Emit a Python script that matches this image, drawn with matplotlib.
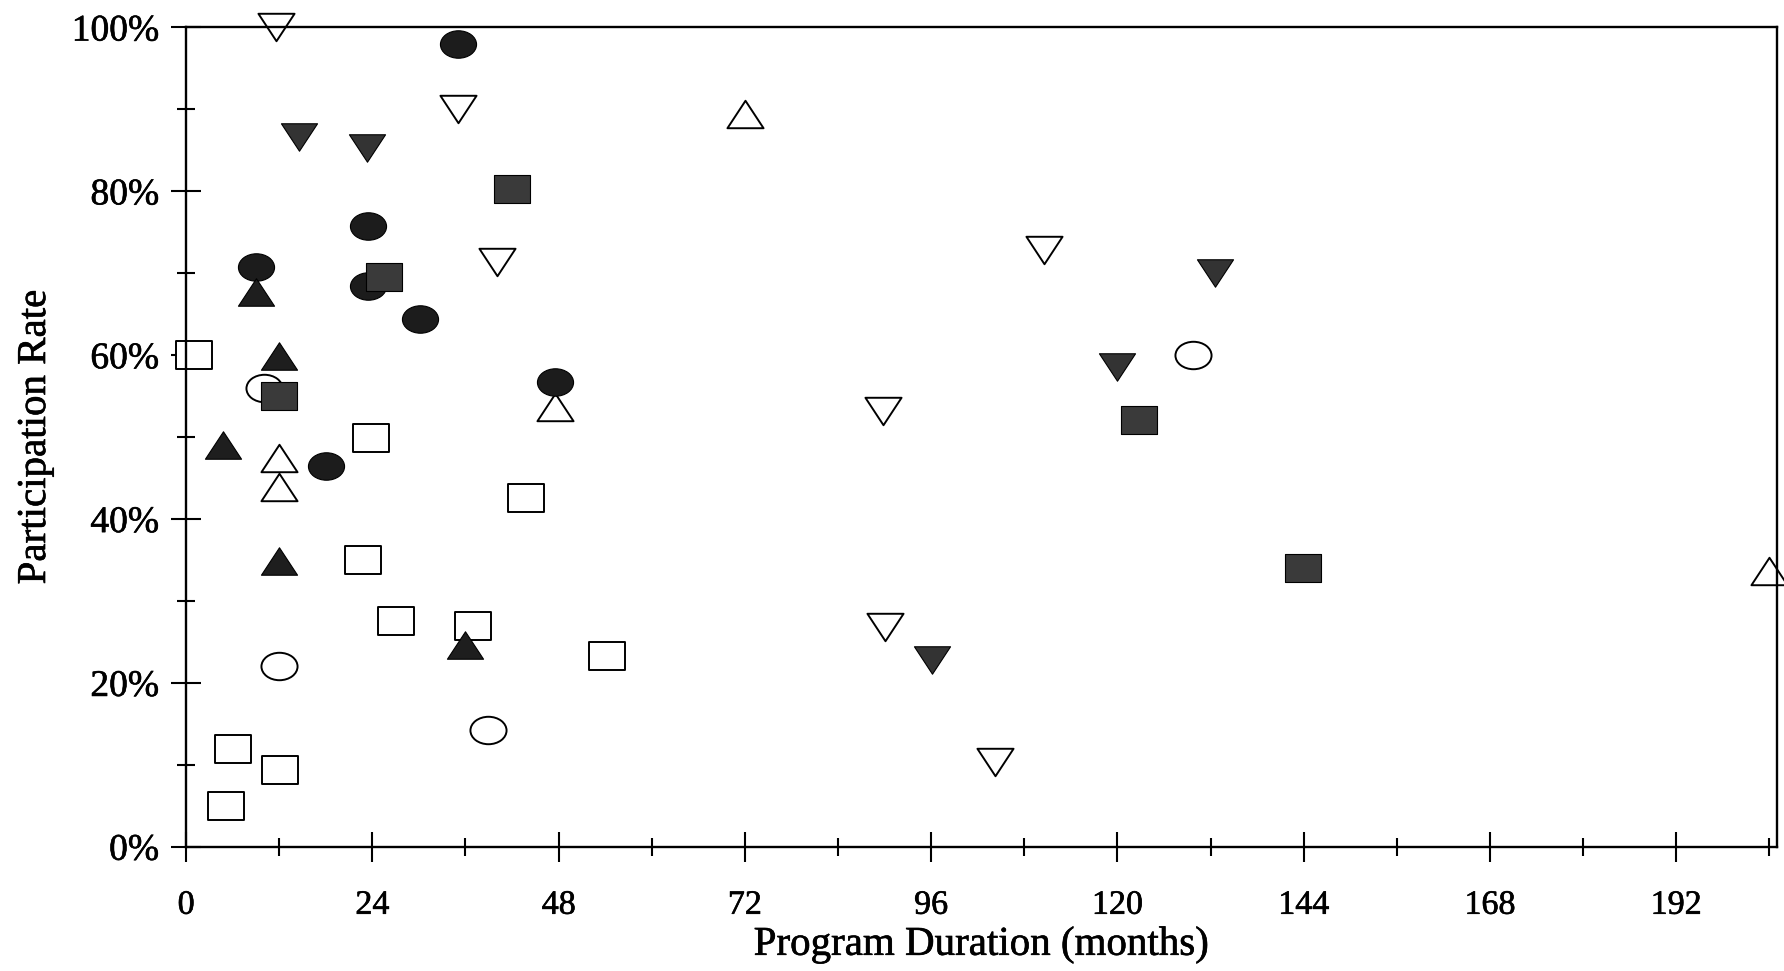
import numpy as np
import matplotlib
matplotlib.use("Agg")
import matplotlib.pyplot as plt
import matplotlib.patheffects as pe
from matplotlib.path import Path
from matplotlib.ticker import FixedLocator

# ---- data (months, participation %) ----
open_sq_x = [1, 23.8, 43.8, 22.8, 27, 37, 54.2, 6.1, 12.1, 5.1]
open_sq_y = [60, 49.9, 42.5, 35, 27.5, 26.9, 23.3, 11.9, 9.4, 4.9]

fill_sq_x = [42, 25.5, 12, 122.8, 143.9]
fill_sq_y = [80.3, 69.5, 55, 52.1, 34.0]

open_ci_x = [10, 129.7, 12, 38.9]
open_ci_y = [56, 60, 22, 14.2]

fill_ci_x = [35, 23.5, 9, 23.5, 30.2, 47.6, 18]
fill_ci_y = [98, 75.8, 70.8, 68.4, 64.4, 56.7, 46.5]

open_up_x = [72, 47.6, 12, 12, 204]
open_up_y = [89.4, 53.6, 47.4, 43.9, 33.6]

fill_up_x = [9, 12, 4.8, 12, 36]
fill_up_y = [67.7, 59.9, 49, 34.9, 24.6]

open_dn_x = [11.6, 35, 40, 110.6, 89.8, 90, 104.2]
open_dn_y = [100, 90, 71.4, 72.8, 53.2, 26.8, 10.3]

fill_dn_x = [14.5, 23.3, 132.6, 119.9, 96.1]
fill_dn_y = [86.6, 85.3, 70, 58.5, 22.8]

x_ticks = [0, 24, 48, 72, 96, 120, 144, 168, 192]
x_minor = [12, 36, 60, 84, 108, 132, 156, 180, 204]
y_ticks = [0, 20, 40, 60, 80, 100]
y_minor = [10, 30, 50, 70, 90]
y_tick_labels = ["0%", "20%", "40%", "60%", "80%", "100%"]

# ---- marker shapes (slightly wider than tall, as in the scan) ----
ASP = 0.76
_c = Path.unit_circle()
M_CIRCLE = Path(_c.vertices * np.array([1.0, ASP]), _c.codes)
M_SQUARE = Path([(-1, -ASP), (1, -ASP), (1, ASP), (-1, ASP), (-1, -ASP)],
                [Path.MOVETO, Path.LINETO, Path.LINETO, Path.LINETO, Path.CLOSEPOLY])
M_UP = Path([(0, ASP), (-1, -ASP), (1, -ASP), (0, ASP)],
            [Path.MOVETO, Path.LINETO, Path.LINETO, Path.CLOSEPOLY])
M_DN = Path([(0, -ASP), (-1, ASP), (1, ASP), (0, -ASP)],
            [Path.MOVETO, Path.LINETO, Path.LINETO, Path.CLOSEPOLY])

plt.rcParams['font.family'] = ['Liberation Serif', 'DejaVu Serif']

fig = plt.figure(figsize=(17.84, 9.71), dpi=100)
ax = fig.add_axes([0.1043, 0.1282, 0.8918, 0.8437])

MS = 26
common = dict(linestyle='none', markersize=MS, markeredgecolor='black', clip_on=False)

# open symbols first, filled symbols drawn over them (as in the original)
ax.plot(open_up_x, open_up_y, marker=M_UP, markerfacecolor='white', markeredgewidth=1.4, **common)
ax.plot(open_dn_x, open_dn_y, marker=M_DN, markerfacecolor='white', markeredgewidth=1.4, **common)
ax.plot(open_ci_x, open_ci_y, marker=M_CIRCLE, markerfacecolor='white', markeredgewidth=1.4, **common)
ax.plot(open_sq_x, open_sq_y, marker=M_SQUARE, markerfacecolor='white', markeredgewidth=1.4, **common)
ax.plot(fill_ci_x, fill_ci_y, marker=M_CIRCLE, markerfacecolor='#1c1c1c', markeredgewidth=0.8, **common)
ax.plot(fill_up_x, fill_up_y, marker=M_UP, markerfacecolor='#1e1e1e', markeredgewidth=0.8, **common)
ax.plot(fill_dn_x, fill_dn_y, marker=M_DN, markerfacecolor='#333333', markeredgewidth=0.8, **common)
ax.plot(fill_sq_x, fill_sq_y, marker=M_SQUARE, markerfacecolor='#3a3a3a', markeredgewidth=0.8, **common)

ax.set_xlim(0, 205)
ax.set_ylim(0, 100)

ax.xaxis.set_major_locator(FixedLocator(x_ticks))
ax.xaxis.set_minor_locator(FixedLocator(x_minor))
ax.set_xticklabels([str(t) for t in x_ticks])
ax.yaxis.set_major_locator(FixedLocator(y_ticks))
ax.yaxis.set_minor_locator(FixedLocator(y_minor))
ax.set_yticklabels(y_tick_labels)

ax.tick_params(axis='both', which='major', direction='inout', length=21, width=1.5, color='black')
ax.tick_params(axis='both', which='minor', direction='inout', length=13, width=1.5)
ax.tick_params(axis='y', which='major', pad=9, labelsize=27)
ax.tick_params(axis='x', which='major', pad=21, labelsize=24.5)

for s in ax.spines.values():
    s.set_linewidth(1.7)

ax.set_xlabel("Program Duration (months)", fontsize=29.5)
ax.set_ylabel("Participation Rate", fontsize=29.5)
ax.xaxis.set_label_coords(0.5, -0.098)
ax.yaxis.set_label_coords(-0.083, 0.5)

stroke = [pe.withStroke(linewidth=0.45, foreground='black')]
for t in ax.get_xticklabels() + ax.get_yticklabels() + [ax.xaxis.label, ax.yaxis.label]:
    t.set_path_effects(stroke)

fig.savefig("out.png", dpi=100)
